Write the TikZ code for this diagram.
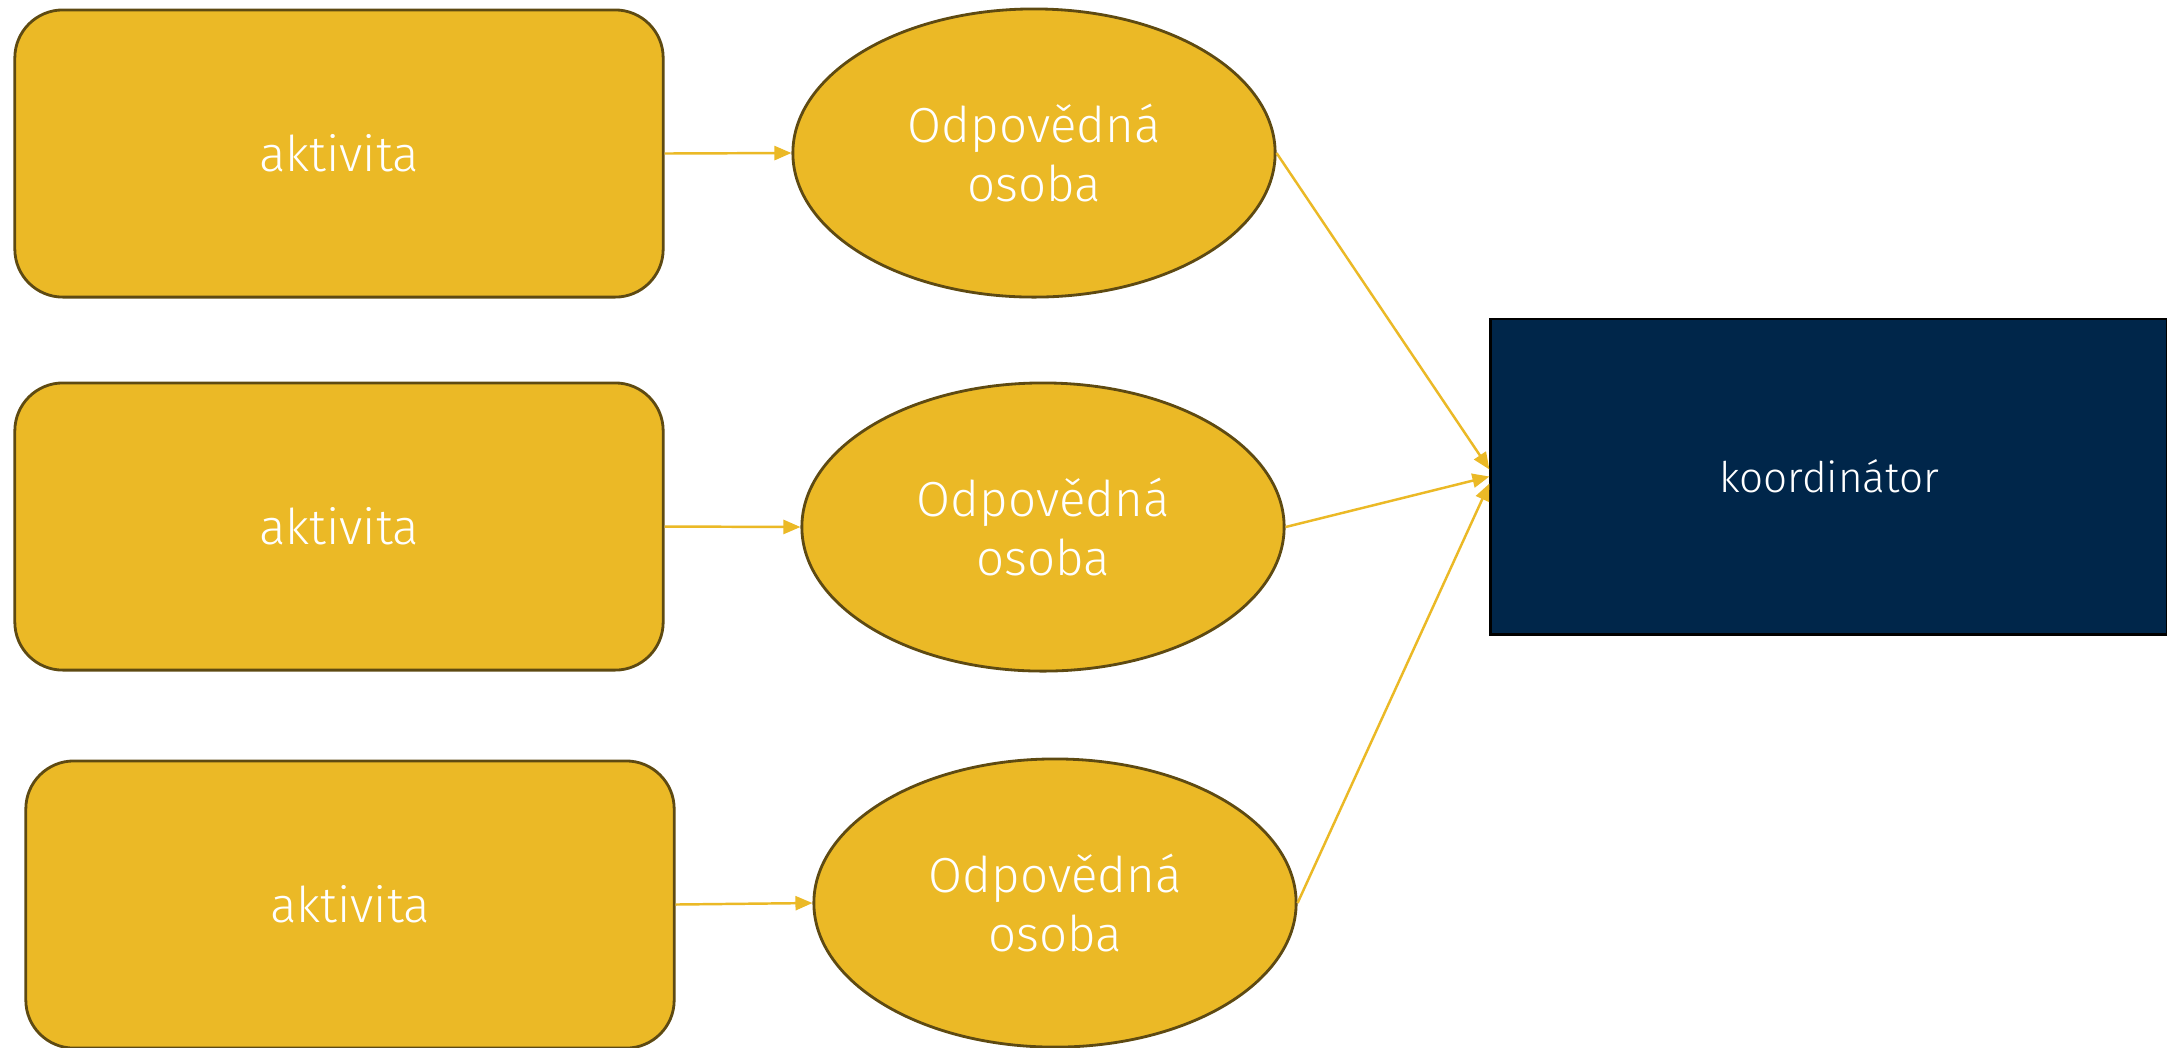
\documentclass[tikz,border=0pt]{standalone}
\usepackage{fontspec}
\setmainfont{Fira Sans Light}
\usetikzlibrary{shapes.geometric, arrows.meta}
\definecolor{zlata}{HTML}{EBB926}
\definecolor{hneda}{HTML}{5E4A12}
\definecolor{modra}{HTML}{00264A}

\begin{document}
\begin{tikzpicture}[x=0.01cm, y=-0.01cm,
        aktbox/.style={draw=hneda, line width=0.8pt, fill=zlata, rounded corners=0.48cm,
            minimum width=6.48cm, minimum height=2.87cm, text=white,
            font=\fontsize{14}{16.5}\selectfont},
        osoba/.style={ellipse, draw=hneda, line width=0.8pt, fill=zlata, inner sep=0pt,
            minimum width=4.82cm, minimum height=2.88cm, align=center, text=white,
            font=\fontsize{14}{16.5}\selectfont},
        koord/.style={draw=black, line width=0.8pt, fill=modra, minimum width=6.76cm,
            minimum height=3.15cm, text=white, font=\fontsize{12}{15}\selectfont},
        sipka/.style={draw=zlata, line width=0.7pt, -{Triangle[length=0.17cm, width=0.14cm]}}]
        \useasboundingbox (0,0) rectangle (2167,1047);
        \fill[white] (0,0) rectangle (2167,1047);
        % aktivity
        \node[aktbox] (a1) at (339,153.5) {aktivita};
        \node[aktbox] (a2) at (339,526.5) {aktivita};
        \node[aktbox] (a3) at (350,904.5) {aktivita};
        % odpovedne osoby
        \node[osoba] (o1) at (1034,153) {Odpovědná\\osoba};
        \node[osoba] (o2) at (1043,527) {Odpovědná\\osoba};
        \node[osoba] (o3) at (1055,903) {Odpovědná\\osoba};
        % koordinator
        \node[koord] (k) at (1829,476.5) {koordinátor};
        \draw[sipka] (a1.east) -- (o1.west);
        \draw[sipka] (a2.east) -- (o2.west);
        \draw[sipka] (a3.east) -- (o3.west);
        \draw[sipka] (o1.east) -- ([yshift=2pt]k.west);
        \draw[sipka] (o2.east) -- (k.west);
        \draw[sipka] (o3.east) -- ([yshift=-2pt]k.west);
    \end{tikzpicture}
\end{document}
